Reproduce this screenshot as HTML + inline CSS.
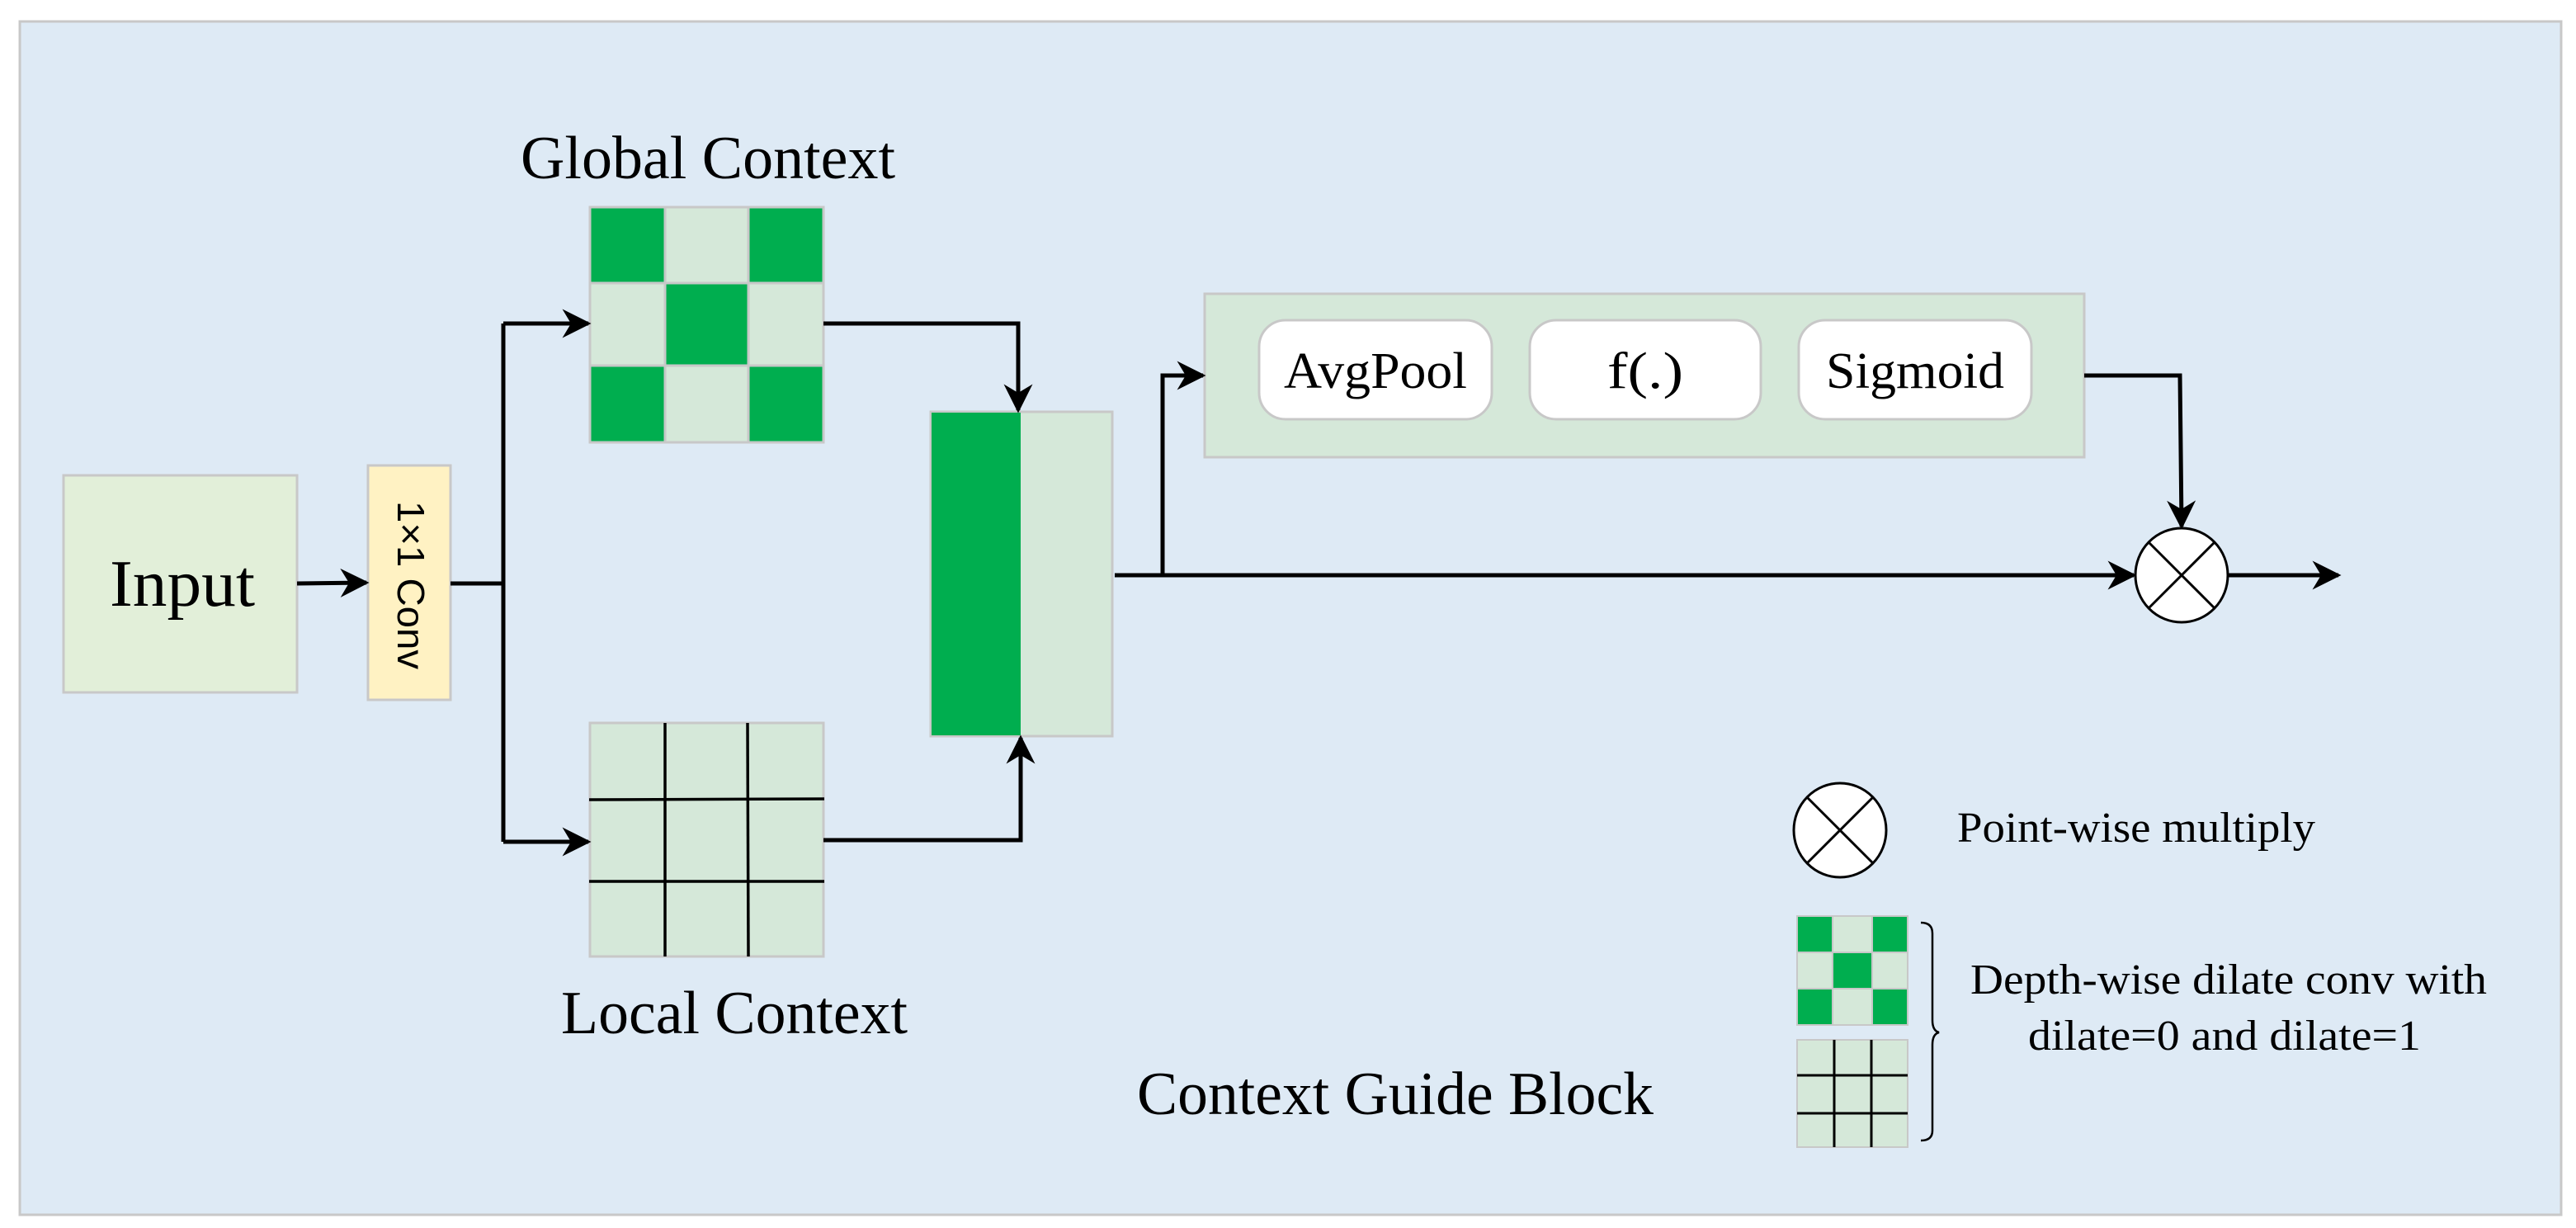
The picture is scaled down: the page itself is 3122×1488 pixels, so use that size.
<!DOCTYPE html>
<html><head><meta charset="utf-8"><style>html,body{margin:0;padding:0;background:#fff}svg{display:block}</style></head>
<body>
<svg width="3122" height="1488" viewBox="0 0 3122 1488" xmlns="http://www.w3.org/2000/svg">
<defs>
<marker id="ah" viewBox="0 0 10 10" refX="9" refY="5" markerWidth="7" markerHeight="7" markerUnits="strokeWidth" orient="auto">
<path d="M0,0 L10,5 L0,10 L3,5 z" fill="#000"/></marker>
</defs>
<rect x="24" y="26" width="3080" height="1446" fill="#deeaf5" stroke="#c8c8c8" stroke-width="3"/>
<rect x="77" y="576" width="283" height="263" fill="#e2efd9" stroke="#c8c8c8" stroke-width="3"/>
<text x="221" y="734" font-family="Liberation Serif, serif" font-size="80" text-anchor="middle" textLength="176" lengthAdjust="spacingAndGlyphs">Input</text>
<rect x="446" y="564" width="100" height="284" fill="#fff2c3" stroke="#c8c8c8" stroke-width="3"/>
<text transform="translate(482,709) rotate(90)" font-family="Liberation Sans, sans-serif" font-size="46" text-anchor="middle" textLength="204" lengthAdjust="spacingAndGlyphs">1×1 Conv</text>
<g stroke="#c8c8c8" stroke-width="3">
<rect x="715" y="251" width="283" height="285" fill="#d5e8d9"/>
<rect x="715" y="251" width="91" height="92" fill="#00ae4f"/>
<rect x="907" y="251" width="91" height="92" fill="#00ae4f"/>
<rect x="806" y="343" width="101" height="100" fill="#00ae4f"/>
<rect x="715" y="443" width="91" height="93" fill="#00ae4f"/>
<rect x="907" y="443" width="91" height="93" fill="#00ae4f"/>
</g>
<text x="858" y="216" font-family="Liberation Serif, serif" font-size="74" text-anchor="middle" textLength="454" lengthAdjust="spacingAndGlyphs">Global Context</text>
<rect x="715" y="876" width="283" height="283" fill="#d5e8d9" stroke="#c8c8c8" stroke-width="3"/>
<g stroke="#000" stroke-width="3.5">
<line x1="806" y1="876" x2="806" y2="1159"/><line x1="906" y1="876" x2="907" y2="1159"/>
<line x1="714" y1="969" x2="999" y2="968"/><line x1="714" y1="1068" x2="999" y2="1068"/>
</g>
<text x="890" y="1252" font-family="Liberation Serif, serif" font-size="74" text-anchor="middle" textLength="420" lengthAdjust="spacingAndGlyphs">Local Context</text>
<rect x="1128" y="499" width="220" height="393" fill="#d5e8d9" stroke="#c8c8c8" stroke-width="3"/>
<rect x="1129" y="500" width="108" height="391" fill="#00ae4f"/>
<rect x="1460" y="356" width="1066" height="198" fill="#d5e8d9" stroke="#c8c8c8" stroke-width="3"/>
<g fill="#fff" stroke="#c8c8c8" stroke-width="3">
<rect x="1526" y="388" width="282" height="120" rx="32"/>
<rect x="1854" y="388" width="280" height="120" rx="32"/>
<rect x="2180" y="388" width="282" height="120" rx="32"/>
</g>
<g font-family="Liberation Serif, serif" font-size="62" text-anchor="middle">
<text x="1667" y="470" textLength="222" lengthAdjust="spacingAndGlyphs">AvgPool</text>
<text x="1994" y="470" textLength="92" lengthAdjust="spacingAndGlyphs">f(.)</text>
<text x="2321" y="470" textLength="216" lengthAdjust="spacingAndGlyphs">Sigmoid</text>
</g>
<g fill="none" stroke="#000" stroke-width="5">
<line x1="360" y1="707" x2="444" y2="706" marker-end="url(#ah)"/>
<polyline points="546,707 610,707"/>
<line x1="610" y1="392" x2="610" y2="1020"/>
<polyline points="610,392 713,392" marker-end="url(#ah)"/>
<polyline points="610,1020 713,1020" marker-end="url(#ah)"/>
<polyline points="998,392 1234,392 1234,497" marker-end="url(#ah)"/>
<polyline points="998,1018 1237,1018 1237,894" marker-end="url(#ah)"/>
<polyline points="1351,697 2586,697" marker-end="url(#ah)"/>
<polyline points="1409,697 1409,455 1458,455" marker-end="url(#ah)"/>
<polyline points="2526,455 2642,455 2644,638" marker-end="url(#ah)"/>
<polyline points="2700,697 2834,697" marker-end="url(#ah)"/>
</g>
<g stroke="#000" stroke-width="3" fill="#fff">
<ellipse cx="2644" cy="697" rx="56" ry="57"/>
<line x1="2604" y1="657" x2="2684" y2="737"/><line x1="2684" y1="657" x2="2604" y2="737"/>
<ellipse cx="2230" cy="1006" rx="56" ry="57"/>
<line x1="2190" y1="966" x2="2270" y2="1046"/><line x1="2270" y1="966" x2="2190" y2="1046"/>
</g>
<text x="2372" y="1020" font-family="Liberation Serif, serif" font-size="52" textLength="434" lengthAdjust="spacingAndGlyphs">Point-wise multiply</text>
<g stroke="#c8c8c8" stroke-width="2">
<rect x="2178" y="1110" width="134" height="132" fill="#d5e8d9"/>
<rect x="2178" y="1110" width="43" height="44" fill="#00ae4f"/>
<rect x="2269" y="1110" width="43" height="44" fill="#00ae4f"/>
<rect x="2221" y="1154" width="48" height="44" fill="#00ae4f"/>
<rect x="2178" y="1198" width="43" height="44" fill="#00ae4f"/>
<rect x="2269" y="1198" width="43" height="44" fill="#00ae4f"/>
<rect x="2178" y="1260" width="134" height="130" fill="#d5e8d9"/>
</g>
<g stroke="#000" stroke-width="3">
<line x1="2223" y1="1260" x2="2223" y2="1390"/><line x1="2268" y1="1260" x2="2268" y2="1390"/>
<line x1="2178" y1="1303" x2="2312" y2="1303"/><line x1="2178" y1="1349" x2="2312" y2="1349"/>
</g>
<path d="M2328,1118 Q2342,1118 2342,1131 L2342,1236 Q2342,1249 2350,1251 Q2342,1253 2342,1266 L2342,1370 Q2342,1382 2328,1382" fill="none" stroke="#000" stroke-width="2.5"/>
<g font-family="Liberation Serif, serif" font-size="52">
<text x="2388" y="1204" textLength="626" lengthAdjust="spacingAndGlyphs">Depth-wise dilate conv with</text>
<text x="2458" y="1272" textLength="476" lengthAdjust="spacingAndGlyphs">dilate=0 and dilate=1</text>
</g>
<text x="1378" y="1350" font-family="Liberation Serif, serif" font-size="74" textLength="626" lengthAdjust="spacingAndGlyphs">Context Guide Block</text>
</svg>
</body></html>
